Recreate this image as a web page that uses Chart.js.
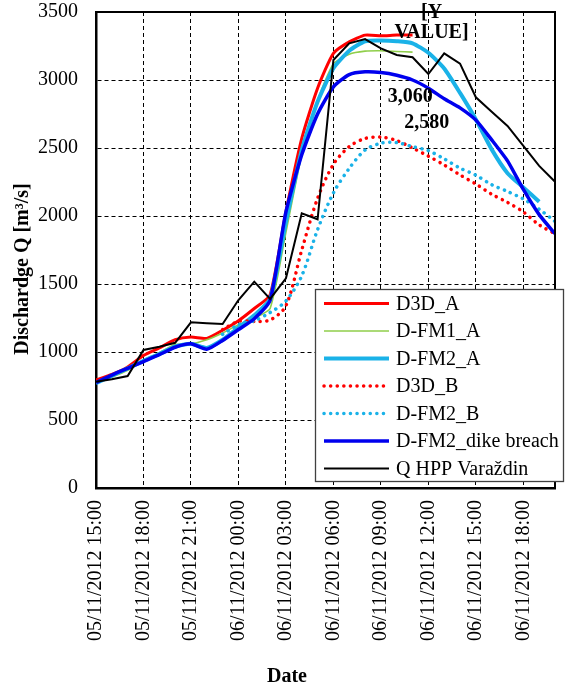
<!DOCTYPE html>
<html>
<head>
<meta charset="utf-8">
<script src="https://cdn.jsdelivr.net/npm/chart.js@4.4.1/dist/chart.umd.min.js"></script>
<style>
  html, body { margin: 0; padding: 0; background: #ffffff; }
  #wrap { width: 565px; height: 689px; position: relative; }
</style>
</head>
<body>
<div id="wrap"><canvas id="c" width="565" height="689"></canvas></div>
<script>
// ---- DATA (hours after 05/11/2012 15:00) ----
const hours = [0,1,2,3,4,5,6,7,8,9,10,11,12,13,14,15,16,17,18,19,20,21,22,23,24,25,26,27,28,29];
const tickLabels = ['05/11/2012 15:00','05/11/2012 18:00','05/11/2012 21:00','06/11/2012 00:00','06/11/2012 03:00',
                    '06/11/2012 06:00','06/11/2012 09:00','06/11/2012 12:00','06/11/2012 15:00','06/11/2012 18:00'];
const seriesNames = ['D3D_A','D-FM1_A','D-FM2_A','D3D_B','D-FM2_B','D-FM2_dike breach','Q HPP Varaždin'];

const d3dA = [795,835,890,975,1030,1090,1110,1100,1160,1230,1320,1420,2030,2570,2940,3196,3280,3330,3325,3330,3330,
              null,null,null,null,null,null,null,null,null];
const dfm1A = [775,815,865,940,995,1055,1060,1090,1140,1200,1250,1320,1880,2450,2850,3120,3190,3212,3215,3210,3205,
               null,null,null,null,null,null,null,null,null];
const dfm2A = [770,825,880,935,985,1040,1060,1030,1090,1180,1270,1390,1955,2485,2840,3086,3215,3285,3290,3285,3270,
               3200,3085,2905,2710,2490,2315,2210,2105,null];
const d3dB = [null,null,null,null,null,null,null,null,1165,1225,1225,1235,1340,1750,2130,2380,2510,2570,2580,2555,2500,
              2440,2375,2302,2235,2160,2100,2030,1935,1870];
const dfm2B = [null,null,null,null,null,null,null,null,1130,1200,1230,1290,1375,1560,1900,2170,2350,2485,2535,2540,2510,
               2480,2420,2352,2300,2230,2180,2125,2050,1960];
const dfm2Dike = [775,830,880,930,980,1035,1060,1020,1085,1165,1245,1380,2030,2450,2750,2950,3040,3060,3055,3035,3000,
                  2940,2862,2795,2705,2560,2405,2195,2010,1870];
const qHPP = [782,800,823,1015,1039,1068,1218,1212,1206,1382,1517,1390,1542,2020,1976,3147,3270,3301,3233,3184,3167,
              3044,3196,3120,2873,2767,2662,2515,2368,2252];

const annotTexts = [['[Y','VALUE]'], ['3,060'], ['2,580']];
const annotHours = [21.2, 19.85, 20.9];
const annotValues = [3420, 2875, 2684];

// ---- helpers ----
function pts(arr) {
  return hours.map((h, i) => ({x: h, y: arr[i]}));
}
const FONT = "'Liberation Serif', 'Times New Roman', serif";
Chart.defaults.font.family = FONT;
Chart.defaults.color = '#000000';

const datasets = [
  {label: seriesNames[0], data: pts(d3dA), borderColor: '#ff0000', borderWidth: 3, tension: 0.2, order: 6},
  {label: seriesNames[1], data: pts(dfm1A), borderColor: '#8fce4a', borderWidth: 1.6, tension: 0.2, order: 5},
  {label: seriesNames[2], data: pts(dfm2A), borderColor: '#1ab2e8', borderWidth: 4, tension: 0.2, order: 4},
  {label: seriesNames[3], data: pts(d3dB), borderColor: '#ff0000', borderWidth: 3.5, borderDash: [0.1, 6.5],
   borderCapStyle: 'round', tension: 0.3, order: 3},
  {label: seriesNames[4], data: pts(dfm2B), borderColor: '#1ab2e8', borderWidth: 3.5, borderDash: [0.1, 6.5],
   borderCapStyle: 'round', tension: 0.3, order: 2},
  {label: seriesNames[5], data: pts(dfm2Dike), borderColor: '#0000ee', borderWidth: 3.5, tension: 0.2, order: 1},
  {label: seriesNames[6], data: pts(qHPP), borderColor: '#000000', borderWidth: 2, tension: 0, order: 0}
];
datasets.forEach(d => { d.pointRadius = 0; d.fill = false; d.spanGaps = false; d.backgroundColor = d.borderColor; });

// frame, annotations, axis titles, legend
const extras = {
  id: 'extras',
  afterDatasetsDraw(chart) {
    const {ctx, chartArea: a} = chart;
    ctx.save();
    ctx.strokeStyle = '#000';
    ctx.lineWidth = 2;
    ctx.beginPath();
    ctx.moveTo(a.left, a.top); ctx.lineTo(a.right, a.top); ctx.lineTo(a.right, a.bottom);
    ctx.stroke();
    ctx.restore();
  },
  afterDraw(chart) {
    const {ctx, scales: {x, y}} = chart;
    ctx.save();
    // data labels
    ctx.fillStyle = '#000';
    ctx.font = 'bold 20px ' + FONT;
    ctx.textAlign = 'center';
    ctx.textBaseline = 'middle';
    annotTexts.forEach((lines, i) => {
      const px = x.getPixelForValue(annotHours[i]);
      const py = y.getPixelForValue(annotValues[i]);
      const lh = 20;
      lines.forEach((t, j) => {
        ctx.fillText(t, px, py + (j - (lines.length - 1) / 2) * lh);
      });
    });
    // axis titles
    ctx.font = 'bold 20px ' + FONT;
    ctx.save();
    ctx.translate(23, 269);
    ctx.rotate(-Math.PI / 2);
    ctx.fillText('Dischardge Q [m³/s]', 0, 0);
    ctx.restore();
    ctx.fillText('Date', 287, 677);
    // legend
    const bx = 315.5, by = 289.5, bw = 248, bh = 192;
    ctx.fillStyle = '#fff';
    ctx.fillRect(bx, by, bw, bh);
    ctx.strokeStyle = '#404040';
    ctx.lineWidth = 1.3;
    ctx.strokeRect(bx, by, bw, bh);
    ctx.font = '20px ' + FONT;
    ctx.textAlign = 'left';
    chart.data.datasets.forEach((d, i) => {
      const cy = 303.5 + i * 27.5;
      ctx.save();
      ctx.strokeStyle = d.borderColor;
      ctx.lineWidth = d.borderWidth;
      ctx.lineCap = d.borderDash ? 'round' : 'butt';
      ctx.setLineDash(d.borderDash || []);
      ctx.beginPath();
      ctx.moveTo(324, cy);
      ctx.lineTo(d.borderDash ? 384 : 389, cy);
      ctx.stroke();
      ctx.restore();
      ctx.fillStyle = '#000';
      ctx.fillText(d.label, 396, cy + 1);
    });
    ctx.restore();
  }
};

new Chart(document.getElementById('c'), {
  type: 'line',
  data: {datasets},
  options: {
    responsive: false,
    animation: false,
    devicePixelRatio: 1,
    layout: {padding: {left: 0, right: 10, top: 12, bottom: 0}},
    plugins: {legend: {display: false}, tooltip: {enabled: false}},
    scales: {
      x: {
        type: 'linear',
        min: 0, max: 29,
        afterFit(s) { s.height = 201; s.paddingLeft = 0; s.paddingRight = 0; s.paddingTop = 0; s.paddingBottom = 0; },
        ticks: {
          stepSize: 3,
          includeBounds: false,
          autoSkip: false,
          maxRotation: 90, minRotation: 90,
          padding: 12,
          font: {size: 20, family: FONT},
          color: '#000',
          callback: (v) => (v % 3 === 0 && v / 3 < tickLabels.length) ? tickLabels[v / 3] : ''
        },
        grid: {color: '#000', lineWidth: 1, drawTicks: false},
        border: {display: true, color: '#000', width: 2.5, dash: [4, 3]}
      },
      y: {
        min: 0, max: 3500,
        afterFit(s) { s.width = 96; s.paddingTop = 0; s.paddingBottom = 0; s.paddingLeft = 0; s.paddingRight = 0; },
        ticks: {stepSize: 500, padding: 18, font: {size: 20, family: FONT}, color: '#000',
                callback: (v) => String(v)},
        grid: {color: '#000', lineWidth: 1, drawTicks: false},
        border: {display: true, color: '#000', width: 2.5, dash: [4, 3]}
      }
    }
  },
  plugins: [extras]
});
</script>
</body>
</html>
